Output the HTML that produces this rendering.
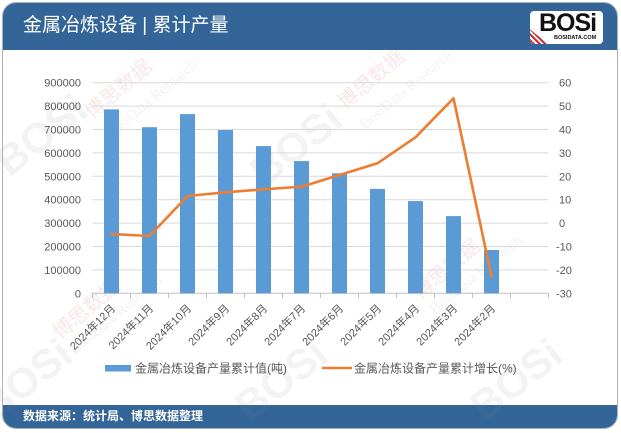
<!DOCTYPE html>
<html>
<head>
<meta charset="utf-8">
<style>
  html,body{margin:0;padding:0;background:#fff;}
  body{width:621px;height:433px;position:relative;overflow:hidden;font-family:"Liberation Sans","Noto Sans CJK SC",sans-serif;}
  .card{position:absolute;left:2px;top:2px;width:614px;height:425px;border:1px solid #a9b3bd;border-radius:14px;overflow:hidden;background:#fff;}
  .hdr{position:absolute;left:0;top:0;width:100%;height:47px;background:#346598;}
  .title{position:absolute;left:20px;top:11px;color:#fff;font-size:19px;line-height:24px;white-space:nowrap;font-family:"Liberation Sans","Noto Sans CJK SC",sans-serif;}
  .ftr{position:absolute;left:0;bottom:0;width:100%;height:23px;background:#346598;}
  .ftxt{position:absolute;left:20px;top:4px;color:#fff;font-size:12px;line-height:15px;font-weight:bold;white-space:nowrap;}
  .logo{position:absolute;left:527px;top:8px;width:73px;height:33px;background:#fff;border-radius:4px;overflow:hidden;}
  .logo .b{position:absolute;left:9px;top:0px;font-family:"Liberation Sans",sans-serif;font-weight:900;font-size:25px;letter-spacing:-1px;color:#111;line-height:25px;}
  .logo .s{position:absolute;left:24px;top:24px;font-size:5.5px;color:#111;font-weight:bold;line-height:6px;}
  .logo .r{position:absolute;left:0;top:14px;width:22px;height:22px;background:repeating-linear-gradient(45deg,#c8303a 0 2px,#fff 2px 4px);clip-path:polygon(0 20%,100% 100%,0 100%);}
  svg{position:absolute;left:0;top:0;}
</style>
</head>
<body>
<div class="card">
  <div class="hdr"></div>
  <div class="title">金属冶炼设备 | 累计产量</div>
  <div class="logo"><div class="r"></div><div class="b">BOSi</div><div class="s">BOSIDATA.COM</div></div>
  <div class="ftr"><div class="ftxt">数据来源：统计局、博思数据整理</div></div>
</div>
<svg width="621" height="433" viewBox="0 0 621 433" xmlns="http://www.w3.org/2000/svg">
  <!-- watermarks -->
  <g opacity="0.10" font-family="Liberation Sans, sans-serif">
    <g transform="translate(45,150) rotate(-38)"><text x="-45" y="0" font-size="42" font-weight="900" fill="#888">BOSi</text></g>
    <g transform="translate(300,160) rotate(-38)"><text x="-45" y="0" font-size="42" font-weight="900" fill="#888">BOSi</text></g>
    <g transform="translate(30,395) rotate(-38)"><text x="-45" y="0" font-size="42" font-weight="900" fill="#888">BOSi</text></g>
    <g transform="translate(285,395) rotate(-38)"><text x="-45" y="0" font-size="42" font-weight="900" fill="#888">BOSi</text></g>
    <g transform="translate(520,395) rotate(-38)"><text x="-45" y="0" font-size="42" font-weight="900" fill="#888">BOSi</text></g>
  </g>
  <g opacity="0.13" font-family="Liberation Serif, Noto Serif CJK SC, serif">
    <text transform="translate(92,120) rotate(-40)" font-size="20" fill="#d04040" font-family="Noto Sans CJK SC, sans-serif">博思数据</text>
    <text transform="translate(110,140) rotate(-40)" font-size="15" fill="#999">BosiData Research</text>
    <text transform="translate(345,110) rotate(-40)" font-size="20" fill="#d04040" font-family="Noto Sans CJK SC, sans-serif">博思数据</text>
    <text transform="translate(365,130) rotate(-40)" font-size="15" fill="#999">BosiData Research</text>
    <text transform="translate(60,340) rotate(-40)" font-size="20" fill="#d04040" font-family="Noto Sans CJK SC, sans-serif">博思数据</text>
    <text transform="translate(75,355) rotate(-40)" font-size="15" fill="#999">BosiData Research</text>
    <text transform="translate(420,300) rotate(-40)" font-size="20" fill="#d04040" font-family="Noto Sans CJK SC, sans-serif">博思数据</text>
    <text transform="translate(435,315) rotate(-40)" font-size="15" fill="#999">BosiData Research</text>
  </g>

  <!-- gridlines -->
  <g stroke="#d9d9d9" stroke-width="1">
    <line x1="92.5" x2="548.5" y1="82.7" y2="82.7"/>
    <line x1="92.5" x2="548.5" y1="106.1" y2="106.1"/>
    <line x1="92.5" x2="548.5" y1="129.5" y2="129.5"/>
    <line x1="92.5" x2="548.5" y1="152.9" y2="152.9"/>
    <line x1="92.5" x2="548.5" y1="176.3" y2="176.3"/>
    <line x1="92.5" x2="548.5" y1="199.7" y2="199.7"/>
    <line x1="92.5" x2="548.5" y1="223.1" y2="223.1"/>
    <line x1="92.5" x2="548.5" y1="246.5" y2="246.5"/>
    <line x1="92.5" x2="548.5" y1="269.9" y2="269.9"/>
  </g>
  <line x1="92.5" x2="548.5" y1="293.3" y2="293.3" stroke="#bfbfbf" stroke-width="1"/>
  <g stroke="#bfbfbf" stroke-width="1">
    <line x1="92.5" x2="92.5" y1="293.3" y2="298"/>
    <line x1="130.5" x2="130.5" y1="293.3" y2="298"/>
    <line x1="168.5" x2="168.5" y1="293.3" y2="298"/>
    <line x1="206.5" x2="206.5" y1="293.3" y2="298"/>
    <line x1="244.5" x2="244.5" y1="293.3" y2="298"/>
    <line x1="282.5" x2="282.5" y1="293.3" y2="298"/>
    <line x1="320.5" x2="320.5" y1="293.3" y2="298"/>
    <line x1="358.5" x2="358.5" y1="293.3" y2="298"/>
    <line x1="396.5" x2="396.5" y1="293.3" y2="298"/>
    <line x1="434.5" x2="434.5" y1="293.3" y2="298"/>
    <line x1="472.5" x2="472.5" y1="293.3" y2="298"/>
    <line x1="510.5" x2="510.5" y1="293.3" y2="298"/>
    <line x1="548.5" x2="548.5" y1="293.3" y2="298"/>
  </g>

  <!-- left axis labels -->
  <g font-family="Liberation Sans, sans-serif" font-size="11" fill="#595959" text-anchor="end">
    <text x="81" y="86.7">900000</text>
    <text x="81" y="110.1">800000</text>
    <text x="81" y="133.5">700000</text>
    <text x="81" y="156.9">600000</text>
    <text x="81" y="180.3">500000</text>
    <text x="81" y="203.7">400000</text>
    <text x="81" y="227.1">300000</text>
    <text x="81" y="250.5">200000</text>
    <text x="81" y="273.9">100000</text>
    <text x="81" y="297.3">0</text>
  </g>
  <!-- right axis labels -->
  <g font-family="Liberation Sans, sans-serif" font-size="11" fill="#595959" text-anchor="start">
    <text x="559" y="86.7">60</text>
    <text x="559" y="110.1">50</text>
    <text x="559" y="133.5">40</text>
    <text x="559" y="156.9">30</text>
    <text x="559" y="180.3">20</text>
    <text x="559" y="203.7">10</text>
    <text x="559" y="227.1">0</text>
    <text x="556" y="250.5">-10</text>
    <text x="556" y="273.9">-20</text>
    <text x="556" y="297.3">-30</text>
  </g>

  <!-- bars -->
  <g fill="#5b9bd5">
    <rect x="104" y="109.4" width="15" height="183.9"/>
    <rect x="142" y="127.2" width="15" height="166.1"/>
    <rect x="180" y="114.1" width="15" height="179.2"/>
    <rect x="218" y="130.0" width="15" height="163.3"/>
    <rect x="256" y="146.1" width="15" height="147.2"/>
    <rect x="294" y="161.1" width="15" height="132.2"/>
    <rect x="332" y="173.3" width="15" height="120.0"/>
    <rect x="370" y="188.9" width="15" height="104.4"/>
    <rect x="408" y="201.1" width="15" height="92.2"/>
    <rect x="446" y="216.1" width="15" height="77.2"/>
    <rect x="484" y="250.0" width="15" height="43.3"/>
  </g>

  <!-- line -->
  <polyline fill="none" stroke="#ed7d31" stroke-width="2.6" stroke-linejoin="round" stroke-linecap="round"
    points="111.5,234 149.5,236 187.5,196 225.5,192.3 263.5,189.3 301.5,186.7 339.5,175 377.5,163.3 415.5,137.3 453.5,98.3 491.5,276.7"/>

  <!-- x labels -->
  <g font-family="Liberation Sans, Noto Sans CJK SC, sans-serif" font-size="11" fill="#595959" text-anchor="end">
    <text transform="translate(116,309) rotate(-45)">2024年12月</text>
    <text transform="translate(154,309) rotate(-45)">2024年11月</text>
    <text transform="translate(192,309) rotate(-45)">2024年10月</text>
    <text transform="translate(230,309) rotate(-45)">2024年9月</text>
    <text transform="translate(268,309) rotate(-45)">2024年8月</text>
    <text transform="translate(306,309) rotate(-45)">2024年7月</text>
    <text transform="translate(344,309) rotate(-45)">2024年6月</text>
    <text transform="translate(382,309) rotate(-45)">2024年5月</text>
    <text transform="translate(420,309) rotate(-45)">2024年4月</text>
    <text transform="translate(458,309) rotate(-45)">2024年3月</text>
    <text transform="translate(496,309) rotate(-45)">2024年2月</text>
  </g>

  <!-- legend -->
  <rect x="105" y="365" width="26" height="6.5" fill="#5b9bd5"/>
  <text x="135" y="372.5" font-family="Liberation Sans, Noto Sans CJK SC, sans-serif" font-size="12" fill="#595959">金属冶炼设备产量累计值(吨)</text>
  <line x1="322" x2="352" y1="368" y2="368" stroke="#ed7d31" stroke-width="2.6"/>
  <text x="354" y="372.5" font-family="Liberation Sans, Noto Sans CJK SC, sans-serif" font-size="12" fill="#595959">金属冶炼设备产量累计增长(%)</text>
</svg>
</body>
</html>
